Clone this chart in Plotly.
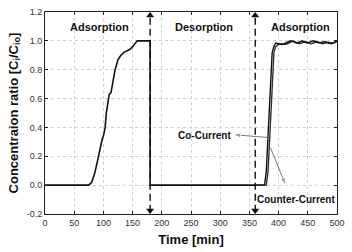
import plotly.graph_objects as go

# First adsorption + desorption (shared by both modes)
t_main = [0, 75, 80, 85, 90, 95, 98, 100, 103, 105, 108, 110, 113, 116, 120, 125, 130, 135, 140, 145, 150, 155, 158, 180, 180, 376]
c_main = [0, 0, 0.02, 0.08, 0.17, 0.27, 0.32, 0.34, 0.40, 0.50, 0.60, 0.63, 0.64, 0.70, 0.80, 0.87, 0.90, 0.92, 0.93, 0.94, 0.96, 0.99, 1.0, 1.0, 0.0, 0.0]

# Second adsorption
t_co = [376, 379, 382, 385, 387, 389, 392, 395, 400, 405, 410, 415, 420, 425, 430, 435, 440, 445, 450, 455, 460, 465, 470, 475, 480, 485, 490, 495, 500]
c_co = [0, 0.1, 0.35, 0.6, 0.82, 0.92, 0.96, 0.985, 0.98, 0.975, 0.98, 0.99, 1.0, 0.995, 0.985, 0.99, 1.0, 0.99, 0.985, 0.995, 1.0, 0.99, 0.985, 0.99, 0.995, 0.985, 0.98, 0.99, 1.0]
t_cc = [360, 379, 382, 385, 388, 390, 392, 395, 398, 400, 405, 410, 415, 420, 425, 430, 435, 440, 445, 450, 455, 460, 465, 470, 475, 480, 485, 490, 495, 500]
c_cc = [0, 0, 0.1, 0.35, 0.6, 0.82, 0.92, 0.96, 0.97, 0.975, 0.98, 0.975, 0.98, 0.99, 1.0, 0.99, 0.98, 0.985, 0.995, 0.99, 0.98, 0.985, 0.995, 0.99, 0.98, 0.985, 0.99, 0.985, 0.985, 0.995]

switch_times = [180, 360]
phase_labels = ["Adsorption", "Desorption", "Adsorption"]
phase_x = [93, 273, 437]

# pointer lines: (tail x, tail y, head x, head y)
co_arrow_t = [382, 322]
co_arrow_c = [0.33, 0.35]
cc_arrow_t = [386, 412]
cc_arrow_c = [0.26, 0.0]

xticks = list(range(0, 501, 50))
yticks = [-0.2, 0.0, 0.2, 0.4, 0.6, 0.8, 1.0, 1.2]

FONT = "Liberation Sans, Arial, sans-serif"

fig = go.Figure()
fig.add_trace(go.Scatter(x=t_main, y=c_main, mode="lines", line=dict(color="#111", width=1.6), showlegend=False))
fig.add_trace(go.Scatter(x=t_cc, y=c_cc, mode="lines", line=dict(color="#333", width=1.4), showlegend=False))
fig.add_trace(go.Scatter(x=t_co, y=c_co, mode="lines", line=dict(color="#111", width=1.4), showlegend=False))

for ts in switch_times:
    fig.add_trace(go.Scatter(x=[ts, ts], y=[-0.185, 1.185], mode="lines",
                             line=dict(color="#111", width=1.4, dash="7px,4px"), showlegend=False))
    fig.add_trace(go.Scatter(x=[ts, ts], y=[1.175, -0.175], mode="markers",
                             marker=dict(symbol=["triangle-up", "triangle-down"], size=7, color="#111"),
                             showlegend=False, hoverinfo="skip"))

for lab, px in zip(phase_labels, phase_x):
    fig.add_annotation(x=px, y=1.095, xref="x", yref="y", text="<b>%s</b>" % lab, showarrow=False,
                       font=dict(family=FONT, size=11, color="#111"))

# Pointer arrows
for ax_t, ax_c in [(co_arrow_t, co_arrow_c), (cc_arrow_t, cc_arrow_c)]:
    fig.add_trace(go.Scatter(x=ax_t, y=ax_c, mode="lines+markers",
                             line=dict(color="#777", width=1),
                             marker=dict(symbol="arrow", angleref="previous", size=[0, 8], color="#777"),
                             showlegend=False, hoverinfo="skip"))

fig.add_annotation(x=273, y=0.347, xref="x", yref="y", text="<b>Co-Current</b>", showarrow=False,
                   font=dict(family=FONT, size=10, color="#111"))
fig.add_annotation(x=429, y=-0.097, xref="x", yref="y", text="<b>Counter-Current</b>", showarrow=False,
                   font=dict(family=FONT, size=10, color="#111"))

axis_common = dict(showline=True, linecolor="#222", linewidth=1, mirror="ticks", ticks="inside",
                   ticklen=3, tickcolor="#222", showgrid=True, gridcolor="#d0d0d0", griddash="dot",
                   gridwidth=1, zeroline=False, tickfont=dict(family=FONT, size=9, color="#333"))

fig.update_xaxes(range=[0, 500], tickvals=xticks, ticktext=[str(v) for v in xticks],
                 title=dict(text="<b>Time [min]</b>", font=dict(family=FONT, size=13, color="#111"), standoff=8),
                 **axis_common)
fig.update_yaxes(range=[-0.2, 1.2], tickvals=yticks, ticktext=["%.1f" % v for v in yticks],
                 title=dict(text="<b>Concentraion ratio [C<sub>i</sub>/C<sub>io</sub>]</b>",
                            font=dict(family=FONT, size=13, color="#111"), standoff=5),
                 **axis_common)

fig.update_layout(width=352, height=252, margin=dict(l=45, r=9, t=7, b=34),
                  plot_bgcolor="white", paper_bgcolor="white", showlegend=False)

fig.write_html("out.html")
